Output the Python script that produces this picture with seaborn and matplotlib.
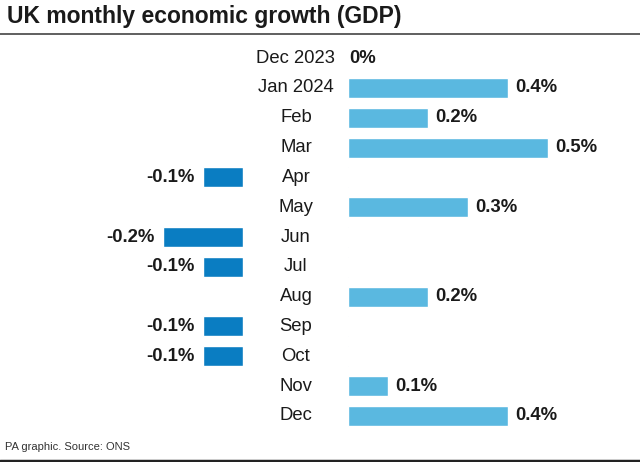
import matplotlib
matplotlib.use("Agg")
import matplotlib.pyplot as plt
import matplotlib.transforms as mtransforms
import seaborn as sns
import pandas as pd

months = ["Dec 2023", "Jan 2024", "Feb", "Mar", "Apr", "May", "Jun",
          "Jul", "Aug", "Sep", "Oct", "Nov", "Dec"]
values = [0.0, 0.4, 0.2, 0.5, -0.1, 0.3, -0.2, -0.1, 0.2, -0.1, -0.1, 0.1, 0.4]
labels = ["0%", "0.4%", "0.2%", "0.5%", "-0.1%", "0.3%", "-0.2%",
          "-0.1%", "0.2%", "-0.1%", "-0.1%", "0.1%", "0.4%"]

title = "UK monthly economic growth (GDP)"
footer = "PA graphic. Source: ONS"

POS = "#5ab8e0"
NEG = "#0a7dc2"

sns.set_theme(style="white")
plt.rcParams["font.family"] = ["Liberation Sans", "DejaVu Sans"]

df = pd.DataFrame({"month": months, "value": values})
df["sign"] = ["neg" if v < 0 else "pos" for v in values]
df["key"] = range(len(months))

W, H = 640, 462
fig = plt.figure(figsize=(W / 100, H / 100), dpi=100)

top_px, bot_px = 43.1, 430.9
ax_b = 1 - bot_px / H
ax_h = (bot_px - top_px) / H
axL = fig.add_axes([43 / W, ax_b, 200 / W, ax_h])
axR = fig.add_axes([348 / W, ax_b, 280 / W, ax_h])

for ax, lim in ((axL, (-0.5, 0)), (axR, (0, 0.7))):
    sns.barplot(data=df, x="value", y="key", hue="sign", orient="h",
                palette={"pos": POS, "neg": NEG}, dodge=False, width=0.67,
                saturation=1, legend=False, ax=ax, order=list(range(len(months))))
    ax.set_xlim(*lim)
    ax.set_ylim(len(months) - 0.5, -0.5)
    ax.axis("off")

fs = 13.3
trans_mid = mtransforms.blended_transform_factory(fig.transFigure, axR.transData)
for i, (m, v, lab) in enumerate(zip(months, values, labels)):
    axR.text(296 / W, i, m, transform=trans_mid, ha="center", va="center",
             fontsize=fs, color="#1a1a1a")
    if v < 0:
        axL.text(v - 0.02, i, lab, ha="right", va="center", fontsize=fs,
                 fontweight="bold", color="#1a1a1a")
    else:
        off = 0.018 if v > 0 else 0.003
        axR.text(v + off, i, lab, ha="left", va="center", fontsize=fs,
                 fontweight="bold", color="#1a1a1a")

fig.text(7 / W, 1 - 16 / H, title, ha="left", va="center", fontsize=16.5,
         fontweight="bold", color="#1a1a1a")
fig.add_artist(plt.Line2D([0, 1], [1 - 34 / H, 1 - 34 / H], transform=fig.transFigure,
                          color="#444444", linewidth=1.2))
fig.text(5 / W, 1 - 447 / H, footer, ha="left", va="center", fontsize=8,
         color="#333333")
fig.add_artist(plt.Line2D([0, 1], [1 - 460.5 / H, 1 - 460.5 / H], transform=fig.transFigure,
                          color="#222222", linewidth=2.5))

fig.savefig("out.png", dpi=100, facecolor="white")
